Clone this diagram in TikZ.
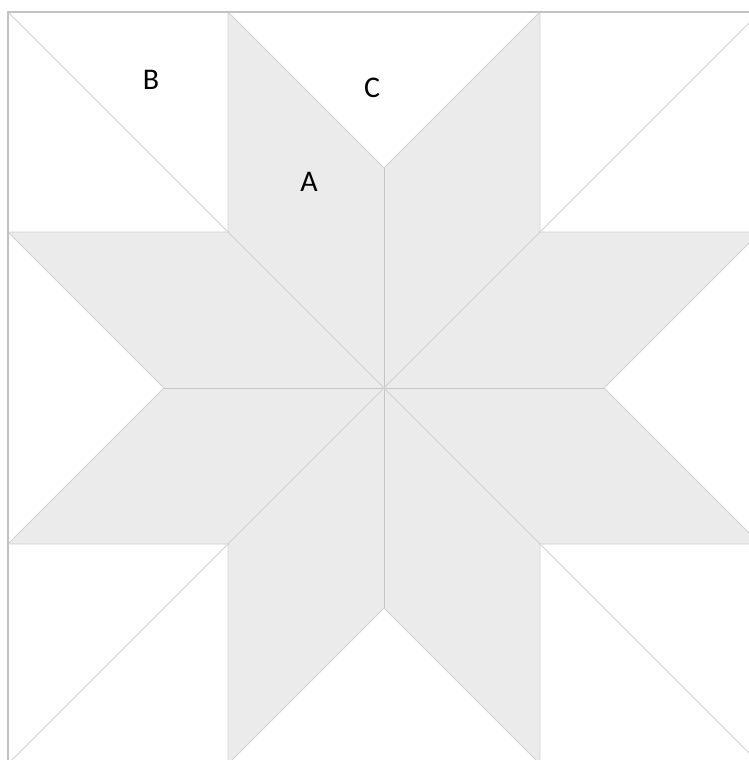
\documentclass[tikz,border=0pt]{standalone}
\usepackage{fontspec}
\setmainfont{Carlito}
\definecolor{starfill}{HTML}{EBEBEB}
\definecolor{seam}{HTML}{D2D2D2}
\definecolor{seamdark}{HTML}{C6C6C6}
\definecolor{frame}{HTML}{C2C2C2}
\tikzset{
  seamline/.style={draw=seam, line width=0.9pt},
  centerline/.style={draw=seamdark, line width=1pt},
  frameline/.style={draw=frame, line width=1.4pt},
  lbl/.style={font=\fontsize{30}{33}\selectfont, text=black, inner sep=0pt}
}
\begin{document}
\begin{tikzpicture}[x=1pt,y=-1pt]
\useasboundingbox (0,0) rectangle (749,760);
\clip (0,0) rectangle (749,760);
\fill[white] (0,0) rectangle (749,760);
% key points
\coordinate (O) at (384,388);
\coordinate (TL) at (8,12);
\coordinate (TR) at (760,12);
\coordinate (BL) at (8,764);
\coordinate (BR) at (760,764);
\coordinate (t1) at (228,12);
\coordinate (t2) at (540,12);
\coordinate (b1) at (228,764);
\coordinate (b2) at (540,764);
\coordinate (l1) at (8,232);
\coordinate (l2) at (8,544);
\coordinate (r1) at (760,232);
\coordinate (r2) at (760,544);
\coordinate (q1) at (228,232);
\coordinate (q2) at (540,232);
\coordinate (q3) at (540,544);
\coordinate (q4) at (228,544);
\coordinate (nT) at (384,168);
\coordinate (nR) at (604,388);
\coordinate (nB) at (384,608);
\coordinate (nL) at (164,388);
% star fill
\fill[starfill] (t1)--(nT)--(t2)--(q2)--(r1)--(nR)--(r2)--(q3)--(b2)--(nB)--(b1)--(q4)--(l2)--(nL)--(l1)--(q1)--cycle;
% star outline
\draw[seamline] (t1)--(nT)--(t2)--(q2)--(r1)--(nR)--(r2)--(q3)--(b2)--(nB)--(b1)--(q4)--(l2)--(nL)--(l1)--(q1)--cycle;
% corner square diagonals
\draw[seamline] (TL)--(q1);
\draw[seamline] (TR)--(q2);
\draw[seamline] (BR)--(q3);
\draw[seamline] (BL)--(q4);
% diamond seams from center
\draw[centerline] (O)--(nT);
\draw[centerline] (O)--(nR);
\draw[centerline] (O)--(nB);
\draw[centerline] (O)--(nL);
\draw[seamline] (O)--(q1);
\draw[seamline] (O)--(q2);
\draw[seamline] (O)--(q3);
\draw[seamline] (O)--(q4);
% frame
\draw[frameline] (BL)--(TL)--(TR)--(BR)--cycle;
% labels
\node[lbl] (labB) at (151,80) {B};
\node[lbl] (labC) at (372,88) {C};
\node[lbl] (labA) at (309,182) {A};
\end{tikzpicture}
\end{document}
